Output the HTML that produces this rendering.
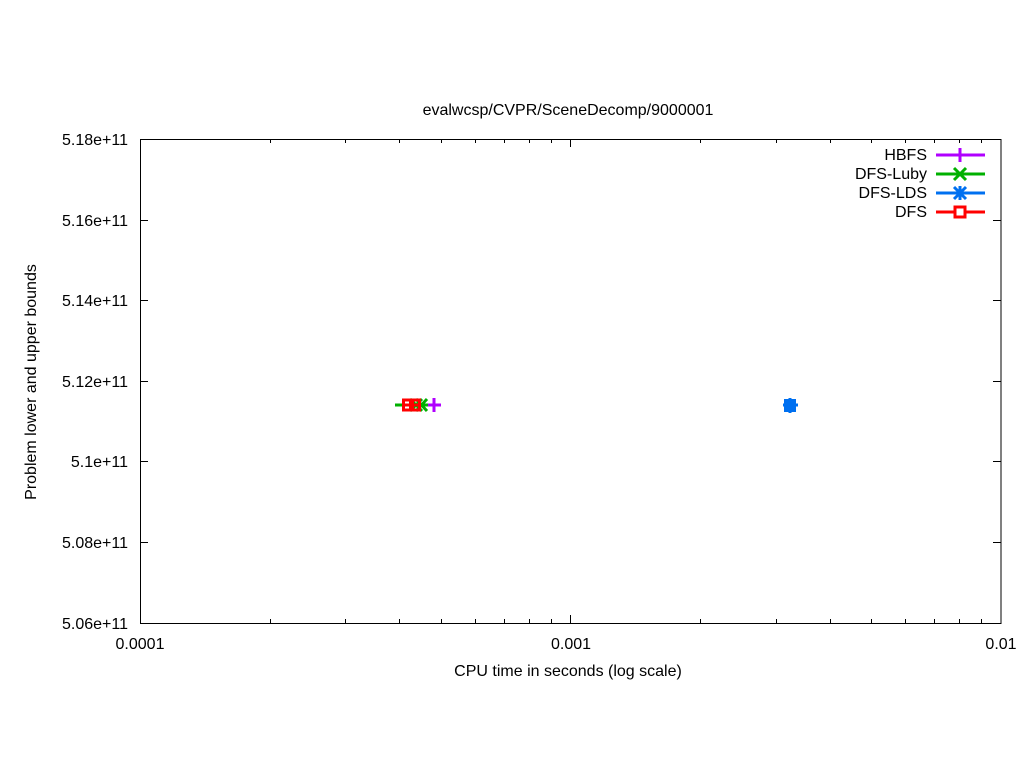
<!DOCTYPE html>
<html><head><meta charset="utf-8"><style>
html,body{margin:0;padding:0;background:#fff;}
svg{display:block;}
text{font-family:"Liberation Sans",Arial,sans-serif;font-size:16px;fill:#000;}
</style></head><body>
<svg width="1024" height="768" viewBox="0 0 1024 768" xmlns="http://www.w3.org/2000/svg">
<rect width="1024" height="768" fill="#fff"/>
<!-- title -->
<text x="568" y="115" text-anchor="middle">evalwcsp/CVPR/SceneDecomp/9000001</text>
<!-- y ticks -->
<g stroke="#000" stroke-width="1" shape-rendering="crispEdges">
<line x1="140" y1="139.5" x2="148" y2="139.5"/><line x1="1001" y1="139.5" x2="993" y2="139.5"/>
<line x1="140" y1="220.5" x2="148" y2="220.5"/><line x1="1001" y1="220.5" x2="993" y2="220.5"/>
<line x1="140" y1="300.5" x2="148" y2="300.5"/><line x1="1001" y1="300.5" x2="993" y2="300.5"/>
<line x1="140" y1="381.5" x2="148" y2="381.5"/><line x1="1001" y1="381.5" x2="993" y2="381.5"/>
<line x1="140" y1="461.5" x2="148" y2="461.5"/><line x1="1001" y1="461.5" x2="993" y2="461.5"/>
<line x1="140" y1="542.5" x2="148" y2="542.5"/><line x1="1001" y1="542.5" x2="993" y2="542.5"/>
<!-- x major ticks -->
<line x1="570.5" y1="623" x2="570.5" y2="615"/><line x1="570.5" y1="139" x2="570.5" y2="147"/>
<!-- x minor ticks decade 1 -->
<line x1="270.5" y1="623" x2="270.5" y2="619"/><line x1="270.5" y1="139" x2="270.5" y2="143"/>
<line x1="345.5" y1="623" x2="345.5" y2="619"/><line x1="345.5" y1="139" x2="345.5" y2="143"/>
<line x1="399.5" y1="623" x2="399.5" y2="619"/><line x1="399.5" y1="139" x2="399.5" y2="143"/>
<line x1="441.5" y1="623" x2="441.5" y2="619"/><line x1="441.5" y1="139" x2="441.5" y2="143"/>
<line x1="475.5" y1="623" x2="475.5" y2="619"/><line x1="475.5" y1="139" x2="475.5" y2="143"/>
<line x1="504.5" y1="623" x2="504.5" y2="619"/><line x1="504.5" y1="139" x2="504.5" y2="143"/>
<line x1="529.5" y1="623" x2="529.5" y2="619"/><line x1="529.5" y1="139" x2="529.5" y2="143"/>
<line x1="551.5" y1="623" x2="551.5" y2="619"/><line x1="551.5" y1="139" x2="551.5" y2="143"/>
<!-- decade 2 -->
<line x1="700.5" y1="623" x2="700.5" y2="619"/><line x1="700.5" y1="139" x2="700.5" y2="143"/>
<line x1="776.5" y1="623" x2="776.5" y2="619"/><line x1="776.5" y1="139" x2="776.5" y2="143"/>
<line x1="830.5" y1="623" x2="830.5" y2="619"/><line x1="830.5" y1="139" x2="830.5" y2="143"/>
<line x1="871.5" y1="623" x2="871.5" y2="619"/><line x1="871.5" y1="139" x2="871.5" y2="143"/>
<line x1="905.5" y1="623" x2="905.5" y2="619"/><line x1="905.5" y1="139" x2="905.5" y2="143"/>
<line x1="934.5" y1="623" x2="934.5" y2="619"/><line x1="934.5" y1="139" x2="934.5" y2="143"/>
<line x1="959.5" y1="623" x2="959.5" y2="619"/><line x1="959.5" y1="139" x2="959.5" y2="143"/>
<line x1="981.5" y1="623" x2="981.5" y2="619"/><line x1="981.5" y1="139" x2="981.5" y2="143"/>
</g>
<!-- border -->
<rect x="140.5" y="139.5" width="860.5" height="484" fill="none" stroke="#000" stroke-width="1.3" shape-rendering="crispEdges"/>
<!-- y tick labels -->
<g text-anchor="end">
<text x="128" y="145">5.18e+11</text>
<text x="128" y="226">5.16e+11</text>
<text x="128" y="306">5.14e+11</text>
<text x="128" y="387">5.12e+11</text>
<text x="128" y="467">5.1e+11</text>
<text x="128" y="548">5.08e+11</text>
<text x="128" y="629">5.06e+11</text>
</g>
<!-- x tick labels -->
<g text-anchor="middle">
<text x="140" y="649">0.0001</text>
<text x="571" y="649">0.001</text>
<text x="1001" y="649">0.01</text>
</g>
<text x="568" y="676" text-anchor="middle">CPU time in seconds (log scale)</text>
<text transform="translate(36,382) rotate(-90)" text-anchor="middle">Problem lower and upper bounds</text>

<!-- data: HBFS -->
<g stroke="#b000ff" stroke-width="3" fill="none">
<line x1="427" y1="405" x2="441" y2="405"/>
<line x1="434" y1="398" x2="434" y2="412"/>
</g>
<!-- DFS-Luby -->
<g stroke="#00b000" stroke-width="3" fill="none">
<line x1="395" y1="405" x2="428" y2="405"/>
<line x1="410" y1="399" x2="422" y2="411"/><line x1="410" y1="411" x2="422" y2="399"/>
<line x1="416" y1="399" x2="427" y2="411"/><line x1="416" y1="411" x2="427" y2="399"/>
</g>
<!-- DFS-LDS -->
<g stroke="#0070f0" stroke-width="3" fill="none">
<rect x="784" y="399" width="12" height="13" fill="#0070f0" stroke="none"/>
<line x1="783" y1="405" x2="798" y2="405"/>
<line x1="790" y1="398" x2="790" y2="413"/>
</g>
<!-- DFS -->
<g stroke="#ff0000" stroke-width="3" fill="none">
<line x1="402" y1="405" x2="421" y2="405"/>
<rect x="403.5" y="400" width="9" height="10"/>
<rect x="410.5" y="400" width="9" height="10"/>
</g>

<!-- legend -->
<g text-anchor="end">
<text x="927" y="160">HBFS</text>
<text x="927" y="179">DFS-Luby</text>
<text x="927" y="198">DFS-LDS</text>
<text x="927" y="217">DFS</text>
</g>
<g stroke-width="3" fill="none">
<line x1="936" y1="155" x2="985" y2="155" stroke="#b000ff"/>
<line x1="960" y1="148" x2="960" y2="162" stroke="#b000ff"/>
<line x1="936" y1="174" x2="985" y2="174" stroke="#00b000"/>
<line x1="954" y1="168" x2="966" y2="180" stroke="#00b000"/>
<line x1="954" y1="180" x2="966" y2="168" stroke="#00b000"/>
<line x1="936" y1="193" x2="985" y2="193" stroke="#0070f0"/>
<line x1="954" y1="187" x2="966" y2="199" stroke="#0070f0"/>
<line x1="954" y1="199" x2="966" y2="187" stroke="#0070f0"/>
<line x1="960" y1="186" x2="960" y2="200" stroke="#0070f0"/>
<line x1="936" y1="212" x2="985" y2="212" stroke="#ff0000"/>
<rect x="955" y="207" width="10" height="10" stroke="#ff0000" fill="#fff"/>
</g>
</svg>
</body></html>
